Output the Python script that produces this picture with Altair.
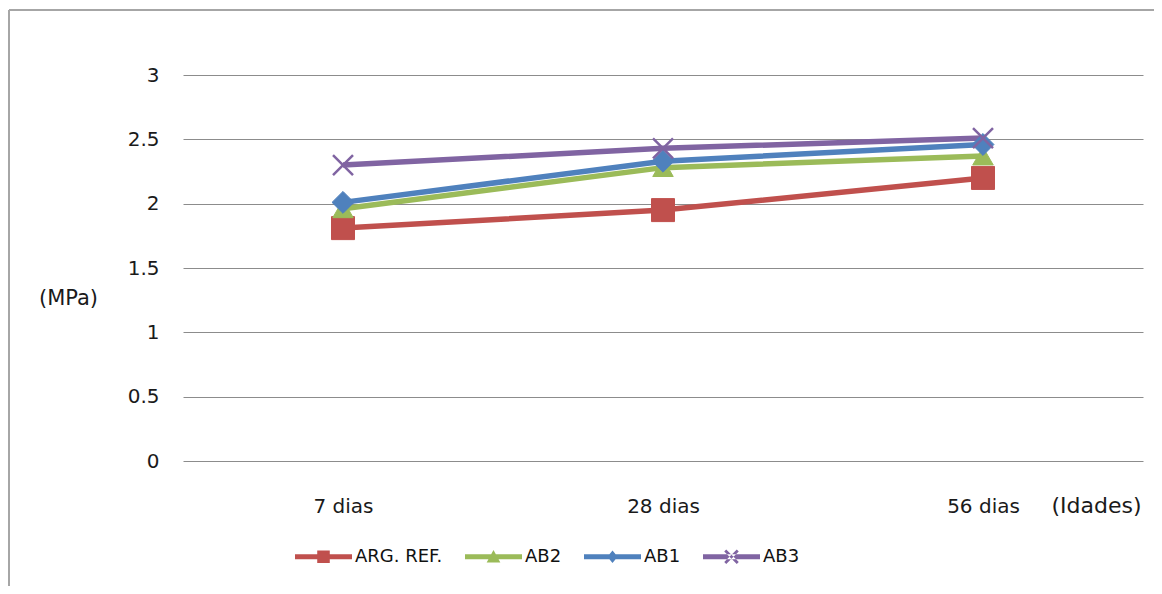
import altair as alt
import pandas as pd

ages = ["7 dias", "28 dias", "56 dias"]
series_names = ["ARG. REF.", "AB2", "AB1", "AB3"]
arg_ref = [1.81, 1.95, 2.20]
ab2 = [1.96, 2.28, 2.37]
ab1 = [2.01, 2.33, 2.46]
ab3 = [2.30, 2.43, 2.51]
colors = ["#C0504D", "#9BBB59", "#4F81BD", "#8064A2"]
y_ticks = [0, 0.5, 1, 1.5, 2, 2.5, 3]

rows = []
for name, vals in zip(series_names, [arg_ref, ab2, ab1, ab3]):
    for a, v in zip(ages, vals):
        rows.append({"idade": a, "serie": name, "valor": v})
df = pd.DataFrame(rows)

FONT = "DejaVu Sans"

# legend symbols: line + marker (unit coords), all filled shapes
bar = "M-1,-0.09H1V0.09H-1Z"
x_mark = ("M-0.255,-0.185L0.185,0.255L0.255,0.185L-0.185,-0.255Z"
          "M-0.185,0.255L0.255,-0.185L0.185,-0.255L-0.255,0.185Z")
leg_paths = [
    bar + "M-0.22,-0.22H0.22V0.22H-0.22Z",
    bar + "M0,-0.24L0.24,0.2H-0.24Z",
    bar + "M0,-0.22L0.18,0L0,0.22L-0.18,0Z",
    bar + x_mark,
]

x_enc = alt.X(
    "idade:N",
    sort=ages,
    scale=alt.Scale(type="point", padding=0.5),
    axis=alt.Axis(
        title="(Idades)", titleAngle=0, titleX=913, titleY=44,
        titleAlign="center", titleBaseline="middle",
        titleFont=FONT, titleFontSize=22, titleFontWeight="normal", titleColor="#1a1a1a",
        labelAngle=0, labelAlign="center", labelPadding=45, labelFont=FONT,
        labelFontSize=20, labelColor="#1a1a1a",
        domain=False, ticks=False, grid=False,
    ),
)
y_enc = alt.Y(
    "valor:Q",
    scale=alt.Scale(domain=[0, 3], nice=False),
    axis=alt.Axis(
        values=y_ticks, format=".1~f",
        title="(MPa)", titleAngle=0, titleX=-115, titleY=223,
        titleAlign="center", titleBaseline="middle",
        titleFont=FONT, titleFontSize=21, titleFontWeight="normal", titleColor="#1a1a1a",
        labelPadding=24, labelFont=FONT, labelFontSize=20, labelColor="#1a1a1a",
        domain=False, ticks=False, grid=True, gridColor="#8c8c8c", gridWidth=1,
    ),
)

color_scale = alt.Scale(domain=series_names, range=colors)

lines = alt.Chart(df).mark_line(strokeWidth=5.5).encode(
    x=x_enc, y=y_enc,
    color=alt.Color("serie:N", sort=series_names, scale=color_scale, legend=None),
)

marker_specs = [
    ("ARG. REF.", dict(shape="square", size=529, filled=True)),
    ("AB2", dict(shape="triangle-up", size=420, filled=True)),
    ("AB1", dict(shape="diamond", size=480, filled=True)),
    ("AB3", dict(shape="M-1,-1L1,1M-1,1L1,-1", size=400, filled=False, strokeWidth=2.5)),
]
point_layers = []
for (name, spec), col in zip(marker_specs, colors):
    if spec["filled"]:
        extra = dict(fill=col, stroke=col, strokeWidth=1, fillOpacity=1, opacity=1)
    else:
        extra = dict(stroke=col, strokeWidth=spec["strokeWidth"], fillOpacity=0, opacity=1)
    pl = alt.Chart(df).transform_filter(
        alt.datum.serie == name
    ).mark_point(shape=spec["shape"], size=spec["size"], filled=spec["filled"], **extra).encode(
        x=alt.X("idade:N", sort=ages), y=alt.Y("valor:Q")
    )
    point_layers.append(pl)

legend_props = dict(
    orient="none", legendX=112, legendY=453, direction="horizontal",
    title=None, symbolSize=3249, labelFont=FONT, labelFontSize=18,
    labelColor="#111", labelOffset=3, columnPadding=22,
    symbolOpacity=1, symbolStrokeWidth=0,
)

# invisible layer that carries the legend
legend_layer = alt.Chart(df).mark_point(filled=True, opacity=0, size=10).encode(
    x=alt.X("idade:N", sort=ages), y=alt.Y("valor:Q"),
    color=alt.Color("serie:N", sort=series_names, scale=color_scale,
                    legend=alt.Legend(**legend_props)),
    shape=alt.Shape("serie:N", sort=series_names,
                    scale=alt.Scale(domain=series_names, range=leg_paths),
                    legend=alt.Legend(**legend_props)),
)

# decorative frame of the chart area
frame_top = alt.Chart(df).mark_rule(color="#a6a6a6", strokeWidth=2).encode(
    x=alt.value(-174), x2=alt.value(1000), y=alt.value(-65)
)
frame_left = alt.Chart(df).mark_rule(color="#a6a6a6", strokeWidth=2).encode(
    x=alt.value(-174), y=alt.value(-65), y2=alt.value(600)
)

chart = alt.layer(frame_top, frame_left, legend_layer, lines, *point_layers).properties(
    width=960, height=386,
    padding={"left": 175, "top": 67, "right": 11, "bottom": 125},
    autosize=alt.AutoSizeParams(type="none"),
    background="white",
).configure_view(stroke=None)

chart.save("out.html", embed_options={"renderer": "svg", "actions": False})
